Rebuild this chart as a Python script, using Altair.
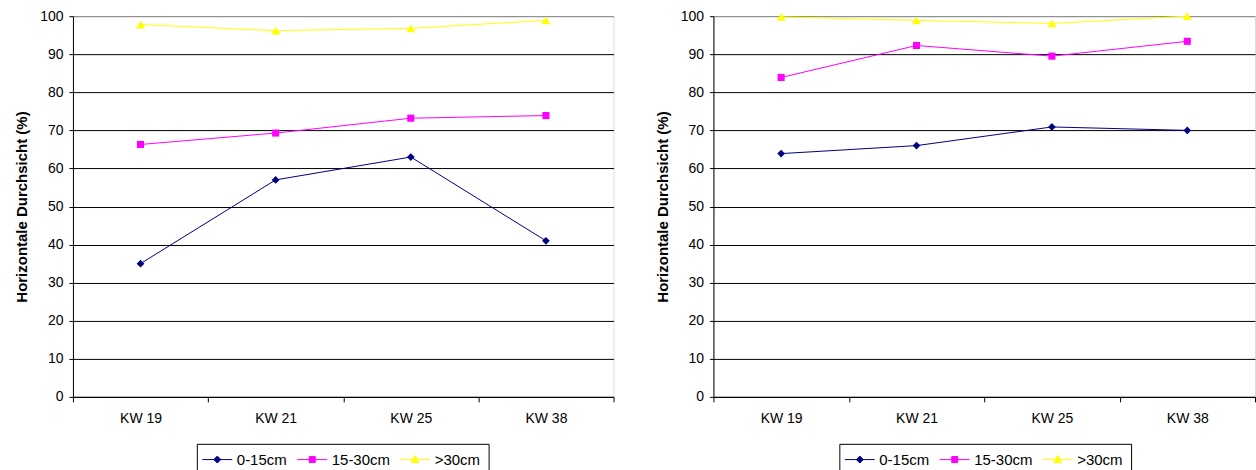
import altair as alt
import pandas as pd

# Sampling weeks and depth classes
weeks = ["KW 19", "KW 21", "KW 25", "KW 38"]
series = ["0-15cm", "15-30cm", ">30cm"]
colors = ["#000080", "#FF00FF", "#FFFF00"]
marker_shapes = ["diamond", "square", "triangle-up"]
marker_sizes = [60, 50, 80]

# Horizontal visibility (%) - left panel
left_0_15 = [35, 57, 63, 41]
left_15_30 = [66.3, 69.3, 73.2, 73.9]
left_over_30 = [97.8, 96.2, 96.8, 98.9]

# Horizontal visibility (%) - right panel
right_0_15 = [63.9, 66, 70.9, 70]
right_15_30 = [83.9, 92.3, 89.5, 93.4]
right_over_30 = [99.8, 98.9, 98.1, 100]

# Legend symbols: a short line with the series marker on it
legend_paths = [
    "M-2.0,0H4.0M0.3,0L1.0,-0.7L1.7,0L1.0,0.7Z",
    "M-2.0,0H4.0M0.4,-0.6H1.6V0.6H0.4Z",
    "M-2.0,0H4.0M1.0,-0.8L1.8,0.6H0.2Z",
]

FONT = "Liberation Sans"


def build_frame(*columns):
    rows = []
    for name, vals in zip(series, columns):
        for wk, v in zip(weeks, vals):
            rows.append({"week": wk, "series": name, "value": v})
    return pd.DataFrame(rows)


def panel(df, width, height, legend_x, legend_y):
    x = alt.X(
        "week:N",
        sort=weeks,
        bandPosition=0.5,
        scale=alt.Scale(type="band", domain=weeks, paddingInner=0, paddingOuter=0),
        axis=alt.Axis(
            title=None,
            labelAngle=0,
            tickBand="extent",
            tickSize=5,
            tickColor="black",
            domainColor="black",
            labelFontSize=14,
            labelPadding=10,
            labelColor="black",
            labelFont=FONT,
            grid=False,
        ),
    )
    y = alt.Y(
        "value:Q",
        scale=alt.Scale(domain=[0, 100], nice=False),
        axis=alt.Axis(
            title="Horizontale Durchsicht (%)",
            titleFont=FONT,
            titleFontSize=15,
            titleFontWeight="bold",
            titleColor="black",
            titlePadding=10,
            values=list(range(0, 101, 10)),
            tickSize=4,
            tickColor="black",
            domainColor="black",
            labelFontSize=14,
            labelPadding=6,
            labelColor="black",
            labelFont=FONT,
            grid=True,
            gridColor={"condition": {"test": "datum.value === 100", "value": "#808080"}, "value": "black"},
            gridOpacity=1,
        ),
    )
    base = alt.Chart(df).encode(x=x, y=y)

    layers = []
    for name, col, shp, sz in zip(series, colors, marker_shapes, marker_sizes):
        one = base.transform_filter(alt.datum.series == name)
        layers.append(one.mark_line(strokeWidth=1, color=col))
        layers.append(one.mark_point(filled=True, shape=shp, size=sz, color=col, opacity=1))

    legend = alt.Legend(
        title=None,
        orient="none",
        legendX=legend_x,
        legendY=legend_y,
        direction="horizontal",
        strokeColor="black",
        fillColor="white",
        padding=8,
        columnPadding=7,
        labelOffset=17,
        labelFont=FONT,
        labelFontSize=15,
        labelColor="black",
        symbolSize=100,
        symbolStrokeWidth=1,
        symbolOpacity=1,
    )
    # Legend-only layer: no marks survive the filter, the scales keep their domains
    key = base.transform_filter("datum.value < 0").mark_point(filled=True, opacity=1).encode(
        fill=alt.Fill("series:N", scale=alt.Scale(domain=series, range=colors), legend=legend),
        stroke=alt.Stroke("series:N", scale=alt.Scale(domain=series, range=colors), legend=legend),
        shape=alt.Shape("series:N", scale=alt.Scale(domain=series, range=legend_paths), legend=legend),
    )
    layers.append(key)

    return alt.layer(*layers).properties(width=width, height=height)


left_df = build_frame(left_0_15, left_15_30, left_over_30)
right_df = build_frame(right_0_15, right_15_30, right_over_30)

chart = (
    alt.hconcat(
        panel(left_df, 541, 381, 124, 428),
        panel(right_df, 542, 381, 126, 428),
        spacing=40,
    )
    .resolve_scale(fill="independent", stroke="independent", shape="independent")
    .resolve_legend(fill="independent", stroke="independent", shape="independent")
    .properties(padding={"left": 14, "top": 8, "right": 0, "bottom": 0})
    .configure_view(stroke="#808080", strokeWidth=1)
    .configure(font=FONT)
)

chart.save("out.html", embed_options={"renderer": "svg", "actions": False})
